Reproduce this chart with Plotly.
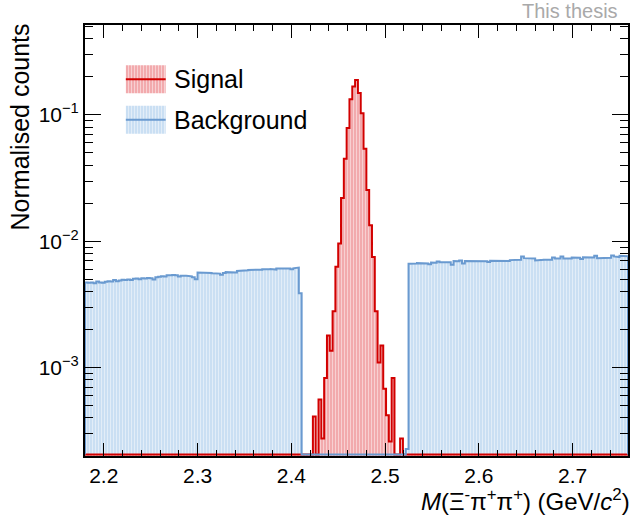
import numpy as np
import plotly.graph_objects as go

# Binning of the invariant-mass histograms (GeV/c^2)
BIN_LO = 2.18
BIN_W = 0.003
N_BINS = 193

# Signal MC, normalised, first filled bin index and contents
sig_first_bin = 81
sig_values = [4.1e-4, 0.0, 5.6e-4, 2.75e-4, 8.3e-4, 1.8e-3, 1.36e-3, 2.8e-3,
              6.3e-3, 9.6e-3, 2.2e-2, 4.5e-2, 7.9e-2, 0.133, 0.168, 0.189,
              0.149, 0.103, 5.4e-2, 2.55e-2, 1.34e-2, 7.5e-3, 2.8e-3, 1.1e-3,
              1.5e-3, 6.8e-4, 4.2e-4, 2.6e-4, 8.3e-4, 0.0, 0.0, 2.75e-4]

# Background (sidebands), normalised, in units of 1e-3
bkg_low_first_bin = 0
bkg_low_values = [4.73, 4.70, 4.72, 4.66, 4.80, 4.72, 4.70, 4.78, 4.82, 4.80,
                  4.95, 4.82, 4.90, 4.96, 4.94, 4.98, 4.93, 5.05, 5.08, 5.02,
                  5.10, 5.08, 5.12, 5.10, 4.98, 5.20, 5.24, 5.28, 5.26, 5.38,
                  5.40, 5.42, 5.38, 5.27, 5.33, 5.35, 5.34, 5.28, 5.20, 5.02,
                  5.67, 5.62, 5.60, 5.63, 5.61, 5.58, 5.60, 5.55, 5.44, 5.62,
                  5.70, 5.68, 5.72, 5.66, 5.82, 5.88, 5.86, 5.90, 5.93, 5.92,
                  5.95, 5.88, 5.96, 6.00, 5.94, 6.02, 6.04, 5.98, 6.08, 6.06,
                  6.10, 6.02, 6.08, 6.00, 6.12, 6.20, 3.89]
bkg_high_first_bin = 114
bkg_high_values = [0.227,
                   6.64, 6.62, 6.66, 6.72, 6.70, 6.74, 6.68, 6.58, 6.80, 6.78,
                   6.93, 6.82, 6.80, 6.86, 6.84, 6.52, 6.97, 6.95, 7.05, 6.66,
                   6.97, 6.95, 6.98, 6.96, 6.92, 6.97, 6.99, 6.95, 6.85, 7.01,
                   7.00, 7.02, 7.01, 6.98, 7.03, 7.00, 7.10, 7.14, 7.12, 7.14,
                   7.59, 7.36, 7.34, 7.38, 7.30, 7.05, 7.08, 7.14, 7.16, 7.12,
                   7.15, 7.45, 7.32, 7.30, 7.58, 7.32, 7.34, 7.30, 7.43, 7.45,
                   7.42, 7.23, 7.47, 7.45, 7.48, 7.46, 7.68, 7.36, 7.34, 7.36,
                   7.33, 7.40, 7.72, 7.59, 7.50, 7.68, 7.59, 7.60]

x_tick_vals = [2.2, 2.3, 2.4, 2.5, 2.6, 2.7]
y_tick_vals = [1e-3, 1e-2, 1e-1]
y_tick_text = ["10<sup>\u22123</sup>", "10<sup>\u22122</sup>", "10<sup>\u22121</sup>"]

Y_MIN, Y_MAX = 2e-4, 0.515
X_MIN, X_MAX = BIN_LO, BIN_LO + N_BINS * BIN_W

edges = BIN_LO + BIN_W * np.arange(N_BINS + 1)

sig = np.zeros(N_BINS)
sig[sig_first_bin:sig_first_bin + len(sig_values)] = sig_values
bkg = np.zeros(N_BINS)
bkg[bkg_low_first_bin:bkg_low_first_bin + len(bkg_low_values)] = np.array(bkg_low_values) * 1e-3
bkg[bkg_high_first_bin:bkg_high_first_bin + len(bkg_high_values)] = np.array(bkg_high_values) * 1e-3

# empty bins are drawn along the bottom of the frame on the log scale
floor = Y_MIN * 10 ** (1.5 / 126.5)
deep = 1e-7


def outline(h):
    shown = np.where(h > 0, h, floor)
    xs = np.repeat(edges, 2)[1:-1]
    ys = np.repeat(shown, 2)
    xs = np.concatenate([[edges[0]], xs, [edges[-1]]])
    ys = np.concatenate([[floor], ys, [floor]])
    return xs, ys


SIG_LINE, SIG_FILL = "#d20000", "#f2aaad"
BKG_LINE, BKG_FILL = "#6a9ad0", "#cadff3"

fig = go.Figure()


def fill_trace(h, fill_color):
    xs, ys = outline(h)
    px = np.concatenate([xs, [edges[-1], edges[0]]])
    py = np.concatenate([ys, [deep, deep]])
    return go.Scatter(
        x=px, y=py, mode="lines", line=dict(width=0), fill="toself",
        fillcolor=fill_color,
        fillpattern=dict(shape="|", bgcolor=fill_color, fgcolor="white",
                         size=3, solidity=0.3),
        hoverinfo="skip", showlegend=False)


def line_trace(h, line_color):
    xs, ys = outline(h)
    return go.Scatter(x=xs, y=ys, mode="lines",
                      line=dict(color=line_color, width=2),
                      hoverinfo="skip", showlegend=False)


fig.add_trace(fill_trace(bkg, BKG_FILL))
fig.add_trace(fill_trace(sig, SIG_FILL))
fig.add_trace(line_trace(sig, SIG_LINE))
fig.add_trace(line_trace(bkg, BKG_LINE))

# legend entries: patterned box with the outline colour through the middle
legend_items = [("Signal", SIG_LINE, SIG_FILL, 0.874),
                ("Background", BKG_LINE, BKG_FILL, 0.780)]
box_x0, box_x1, box_h = 0.0752, 0.1486, 0.065
for label, lc, fc, yc in legend_items:
    fig.add_trace(go.Scatter(
        x=[box_x0, box_x1, box_x1, box_x0, box_x0],
        y=[yc - box_h / 2, yc - box_h / 2, yc + box_h / 2, yc + box_h / 2, yc - box_h / 2],
        xaxis="x2", yaxis="y2", mode="lines", line=dict(width=0), fill="toself",
        fillcolor=fc,
        fillpattern=dict(shape="|", bgcolor=fc, fgcolor="white", size=3, solidity=0.3),
        hoverinfo="skip", showlegend=False))
    fig.add_trace(go.Scatter(
        x=[box_x0, box_x1], y=[yc, yc], xaxis="x2", yaxis="y2", mode="lines",
        line=dict(color=lc, width=2), hoverinfo="skip", showlegend=False))
    fig.add_annotation(x=0.160, y=yc, xref="x2", yref="y2", text=label,
                       showarrow=False, xanchor="left", yanchor="middle",
                       font=dict(size=25, color="black"))

FONT = "Liberation Sans, Arial, sans-serif"
axis_common = dict(showline=True, linecolor="black", linewidth=2, mirror="ticks",
                   ticks="inside", tickcolor="black", tickwidth=1,
                   showgrid=False, zeroline=False,
                   tickfont=dict(size=21, color="black"))

fig.update_layout(
    width=632, height=515,
    margin=dict(l=85, r=2, t=25, b=59),
    paper_bgcolor="white", plot_bgcolor="white",
    font=dict(family=FONT, color="black"),
    xaxis=dict(range=[X_MIN, X_MAX], tickvals=x_tick_vals,
               ticktext=[f"{v:.1f}" for v in x_tick_vals], ticklen=13,
               minor=dict(ticks="inside", dtick=0.02, tick0=2.2, ticklen=6,
                          tickcolor="black", tickwidth=1),
               **axis_common),
    yaxis=dict(type="log", range=[np.log10(Y_MIN), np.log10(Y_MAX)],
               tickvals=y_tick_vals, ticktext=y_tick_text, ticklen=16,
               minor=dict(ticks="inside", ticklen=8, tickcolor="black", tickwidth=1,
                          tickvals=[m * d for d in (1e-4, 1e-3, 1e-2, 1e-1)
                                    for m in range(2, 10)
                                    if Y_MIN <= m * d <= Y_MAX]),
               **axis_common),
    xaxis2=dict(domain=[0, 1], range=[0, 1], overlaying="x", visible=False,
                fixedrange=True),
    yaxis2=dict(domain=[0, 1], range=[0, 1], overlaying="y", visible=False,
                fixedrange=True),
)

fig.add_annotation(text="Normalised counts", xref="paper", yref="paper",
                   x=-0.120, y=1.009, xanchor="center", yanchor="top",
                   textangle=-90, showarrow=False, font=dict(size=25))
fig.add_annotation(text="<i>M</i>(\u039e<sup>-</sup>\u03c0<sup>+</sup>\u03c0<sup>+</sup>) (GeV/<i>c</i><sup>2</sup>)",
                   xref="paper", yref="paper", x=1.008, y=-0.101,
                   xanchor="right", yanchor="middle", showarrow=False,
                   font=dict(size=24))
fig.add_annotation(text="This thesis", xref="paper", yref="paper",
                   x=0.985, y=1.0325, xanchor="right", yanchor="middle",
                   showarrow=False, font=dict(size=20, color="#a9a9a9"))

fig.write_html("out.html")
